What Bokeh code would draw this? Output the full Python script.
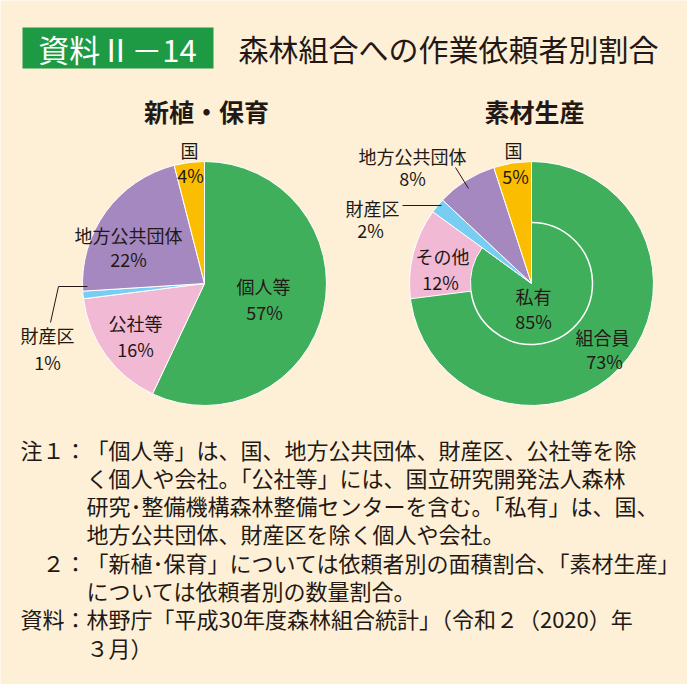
import numpy as np
from bokeh.plotting import figure
from bokeh.models import Range1d
from bokeh.core.properties import value
from bokeh.embed import file_html
from bokeh.resources import INLINE

W, H = 687, 684

# ---------------- data ----------------
title_tag = "資料Ⅱ－14"
title_text = "森林組合への作業依頼者別割合"

left_title = "新植・保育"
left_labels = ["個人等", "公社等", "財産区", "地方公共団体", "国"]
left_values = [57, 16, 1, 22, 4]

right_title = "素材生産"
right_labels = ["組合員", "その他", "財産区", "地方公共団体", "国"]
right_values = [73, 12, 2, 8, 5]
inner_label = "私有"
inner_value = 85

notes_heads = ["注１：", "", "", "", "２：", "", "資料：", ""]
notes_lines = [
    "「個人等」は、国、地方公共団体、財産区、公社等を除",
    "く個人や会社。「公社等」には、国立研究開発法人森林",
    "研究･整備機構森林整備センターを含む。「私有」は、国、",
    "地方公共団体、財産区を除く個人や会社。",
    "「新植･保育」については依頼者別の面積割合､「素材生産」",
    "については依頼者別の数量割合。",
    "林野庁「平成30年度森林組合統計」（令和２（2020）年",
    "３月）",
]

# ---------------- styles / layout ----------------
BG = "#FDF0D6"
TXT = "#231815"
GREEN = "#40AF5C"
PINK = "#F2B9D4"
BLUE = "#78CDF2"
PURPLE = "#A488BF"
GOLD = "#FBBD00"
BOX = "#1E9A45"
slice_colors = [GREEN, PINK, BLUE, PURPLE, GOLD]
FONT = value("Noto Sans CJK JP")
LABEL_SIZE = "18px"
NOTE_SIZE = "22px"

LC = (204, 283)   # left pie centre (px, from top)
RC = (531, 283)   # right pie centre
R = 122
R_IN = 61

# label positions (px from top-left): (name_xy, pct_xy)
left_pos = [((263, 285), (264, 311)), ((135, 322), (135, 348)),
            ((47, 334), (47, 361)), ((128, 234), (128, 258)),
            ((189, 149), (190, 174))]
right_pos = [((602, 336), (604, 360)), ((442, 255), (440, 281)),
             ((372, 207), (370, 229)), ((412, 155), (412, 177)),
             ((513, 149), (515, 175))]
inner_pos = ((533, 295), (533, 320))


def Y(y):
    return H - y


p = figure(width=W, height=H, output_backend="svg", toolbar_location=None,
           x_range=Range1d(0, W), y_range=Range1d(0, H),
           min_border=0, background_fill_color=BG, border_fill_color=BG)
p.axis.visible = False
p.grid.visible = False
p.outline_line_color = None


def angles(vals):
    v = np.asarray(vals, dtype=float)
    cum = np.concatenate([[0], np.cumsum(v)]) * 3.6  # clockwise from top (deg)
    t1, t2 = cum[:-1], cum[1:]
    start = np.radians(90 - t2)
    end = np.radians(90 - t1)
    return start, end


# ---- title ----
p.quad(left=22, right=213, bottom=Y(68), top=Y(27), fill_color=BOX, line_color=None)
p.text(x=[117], y=[Y(48)], text=[title_tag], text_font=FONT, text_font_size="31px",
       text_color="white", text_align="center", text_baseline="middle")
p.text(x=[238], y=[Y(47)], text=[title_text], text_font=FONT, text_font_size="30px",
       text_color=TXT, text_align="left", text_baseline="middle")

# ---- subtitles ----
p.text(x=[LC[0] + 2, RC[0] + 3], y=[Y(110), Y(110)], text=[left_title, right_title],
       text_font=FONT, text_font_size="25px", text_font_style="bold",
       text_color=TXT, text_align="center", text_baseline="middle")

# ---- left pie ----
s, e = angles(left_values)
p.wedge(x=LC[0], y=Y(LC[1]), radius=R, start_angle=s, end_angle=e,
        fill_color=slice_colors, line_color="white", line_width=1)

# ---- right pie ----
s, e = angles(right_values)
s_in, e_in = angles([inner_value])
# private (inner) region spans 組合員 + その他
p.wedge(x=RC[0], y=Y(RC[1]), radius=R, start_angle=s_in[0], end_angle=e_in[0],
        fill_color=GREEN, line_color="white", line_width=1)
p.annular_wedge(x=RC[0], y=Y(RC[1]), inner_radius=R_IN, outer_radius=R,
                start_angle=s[1], end_angle=e[1], fill_color=PINK,
                line_color="white", line_width=1)
p.wedge(x=RC[0], y=Y(RC[1]), radius=R, start_angle=s[2:], end_angle=e[2:],
        fill_color=slice_colors[2:], line_color="white", line_width=1)
p.arc(x=RC[0], y=Y(RC[1]), radius=R_IN, start_angle=s[0], end_angle=e[0],
      line_color="white", line_width=1.5)

# ---- leader lines ----
p.line(x=[87, 58, 50], y=[Y(286), Y(286), Y(322)], line_color=TXT, line_width=1)
p.line(x=[402, 441], y=[Y(205), Y(205)], line_color=TXT, line_width=1)
p.line(x=[455, 468], y=[Y(167), Y(188)], line_color=TXT, line_width=1)


def put_labels(labels, vals, pos):
    xs, ys, ts = [], [], []
    for lab, v, (n, q) in zip(labels, vals, pos):
        xs += [n[0], q[0]]
        ys += [Y(n[1]), Y(q[1])]
        ts += [lab, f"{v}%"]
    p.text(x=xs, y=ys, text=ts, text_font=FONT, text_font_size=LABEL_SIZE,
           text_color=TXT, text_align="center", text_baseline="middle")


put_labels(left_labels, left_values, left_pos)
put_labels(right_labels, right_values, right_pos)
put_labels([inner_label], [inner_value], [inner_pos])

# ---- notes ----
y0, dy = 448, 28.3
X0 = 86
for i, (h, t) in enumerate(zip(notes_heads, notes_lines)):
    yy = Y(y0 + i * dy)
    if h:
        if h == "２：":
            p.text(x=[X0], y=[yy], text=[h], text_font=FONT, text_font_size=NOTE_SIZE,
                   text_color=TXT, text_align="right", text_baseline="middle")
        else:
            p.text(x=[20], y=[yy], text=[h], text_font=FONT, text_font_size=NOTE_SIZE,
                   text_color=TXT, text_align="left", text_baseline="middle")
    p.text(x=[X0], y=[yy], text=[t], text_font=FONT, text_font_size=NOTE_SIZE,
           text_color=TXT, text_align="left", text_baseline="middle")

open("out.html", "w").write(file_html(p, INLINE))
